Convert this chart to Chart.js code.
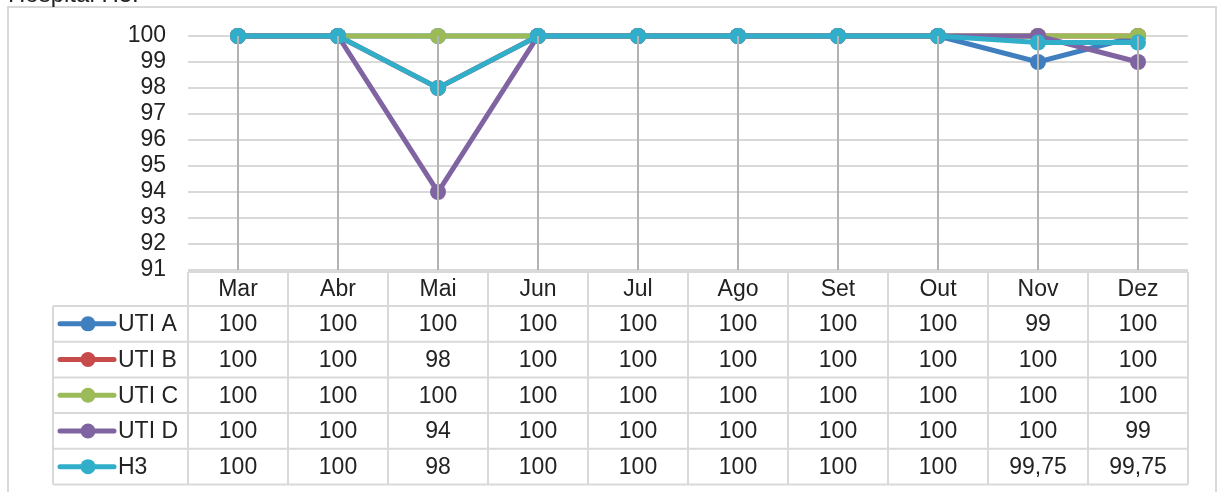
<!DOCTYPE html>
<html>
<head>
<meta charset="utf-8">
<script src="https://cdn.jsdelivr.net/npm/chart.js@4/dist/chart.umd.min.js"></script>
<style>
  html, body { margin: 0; padding: 0; background: #ffffff; overflow: hidden; }
  #wrap { position: relative; width: 1218px; height: 492px; }
</style>
</head>
<body>
<div id="wrap"><canvas id="c" width="1218" height="492"></canvas></div>
<script>
// Months shown on the category axis and in the table header
const months = ['Mar', 'Abr', 'Mai', 'Jun', 'Jul', 'Ago', 'Set', 'Out', 'Nov', 'Dez'];

// Monthly values per unit (%)
const utiA = [100, 100, 100, 100, 100, 100, 100, 100, 99, 100];
const utiB = [100, 100, 98, 100, 100, 100, 100, 100, 100, 100];
const utiC = [100, 100, 100, 100, 100, 100, 100, 100, 100, 100];
const utiD = [100, 100, 94, 100, 100, 100, 100, 100, 100, 99];
const h3   = [100, 100, 98, 100, 100, 100, 100, 100, 99.75, 99.75];

const seriesNames = ['UTI A', 'UTI B', 'UTI C', 'UTI D', 'H3'];
const seriesValues = [utiA, utiB, utiC, utiD, h3];
const seriesColors = ['#3F7FBF', '#C84B4B', '#9BBB59', '#8064A2', '#31AFCA'];

// Y axis range and step
const yMin = 91;
const yMax = 100;
const yStep = 1;

const titleText = 'Hospital H3:';

const FONT = '"Liberation Sans", Arial, sans-serif';
const TEXT = '#222222';
const RULE = '#d9d9d9';
const FONT_SIZE = 23;

function fmt(v) {
  return String(v).replace('.', ',');
}

// Frame, title, drop lines and the data table under the plot
const tablePlugin = {
  id: 'dataTable',
  beforeDraw(chart) {
    const ctx = chart.ctx;
    ctx.save();
    ctx.fillStyle = '#ffffff';
    ctx.fillRect(0, 0, chart.width, chart.height);
    ctx.strokeStyle = RULE;
    ctx.lineWidth = 2;
    ctx.strokeRect(8, 7, 1208, 520);
    ctx.fillStyle = TEXT;
    ctx.font = '24px ' + FONT;
    ctx.textAlign = 'left';
    ctx.textBaseline = 'alphabetic';
    ctx.fillText(titleText, 8, 2);
    ctx.restore();
  },
  afterDatasetsDraw(chart) {
    const ctx = chart.ctx;
    const x = chart.scales.x;
    const y = chart.scales.y;
    const area = chart.chartArea;
    ctx.save();
    // drop lines from the highest point of each month down to the axis
    ctx.strokeStyle = '#b3b3b3';
    ctx.lineWidth = 2;
    months.forEach((m, i) => {
      const top = Math.max(...seriesValues.map(s => s[i]));
      const px = Math.round(x.getPixelForValue(i));
      ctx.beginPath();
      ctx.moveTo(px, y.getPixelForValue(top));
      ctx.lineTo(px, area.bottom);
      ctx.stroke();
    });

    // table geometry derived from the category scale
    const colW = x.getPixelForValue(1) - x.getPixelForValue(0);
    const left = area.left;
    const right = area.right;
    const headTop = area.bottom + 2;
    const headBot = headTop + 34;
    const rowH = 35.7;
    const legendLeft = 53;
    const tableBot = headBot + rowH * seriesNames.length;

    ctx.strokeStyle = RULE;
    ctx.lineWidth = 2;
    ctx.beginPath();
    // header row
    ctx.moveTo(left, headTop); ctx.lineTo(right, headTop);
    for (let r = 0; r <= seriesNames.length; r++) {
      const yy = headBot + r * rowH;
      ctx.moveTo(legendLeft, yy); ctx.lineTo(right, yy);
    }
    for (let c = 0; c <= months.length; c++) {
      const xx = left + c * colW;
      ctx.moveTo(xx, headTop); ctx.lineTo(xx, tableBot);
    }
    ctx.moveTo(legendLeft, headBot); ctx.lineTo(legendLeft, tableBot);
    ctx.stroke();

    ctx.fillStyle = TEXT;
    ctx.font = FONT_SIZE + 'px ' + FONT;
    ctx.textAlign = 'center';
    ctx.textBaseline = 'middle';
    months.forEach((m, i) => {
      ctx.fillText(m, x.getPixelForValue(i), (headTop + headBot) / 2 + 1);
    });

    seriesNames.forEach((name, r) => {
      const cy = headBot + r * rowH + rowH / 2;
      // legend key
      ctx.strokeStyle = seriesColors[r];
      ctx.lineWidth = 5;
      ctx.lineCap = 'round';
      ctx.beginPath();
      ctx.moveTo(60, cy); ctx.lineTo(114, cy);
      ctx.stroke();
      ctx.fillStyle = seriesColors[r];
      ctx.beginPath();
      ctx.arc(88, cy, 7.5, 0, Math.PI * 2);
      ctx.fill();
      ctx.fillStyle = TEXT;
      ctx.textAlign = 'left';
      ctx.fillText(name, 118, cy + 1);
      ctx.textAlign = 'center';
      seriesValues[r].forEach((v, i) => {
        ctx.fillText(fmt(v), x.getPixelForValue(i), cy + 1);
      });
    });
    ctx.restore();
  }
};

const datasets = seriesNames.map((name, k) => ({
  label: name,
  data: seriesValues[k],
  borderColor: seriesColors[k],
  backgroundColor: seriesColors[k],
  pointBackgroundColor: seriesColors[k],
  pointBorderWidth: 0,
  pointRadius: 8,
  borderWidth: 5,
  tension: 0,
  fill: false,
  clip: false,
  order: seriesNames.length - k
}));

new Chart(document.getElementById('c'), {
  type: 'line',
  data: { labels: months, datasets },
  options: {
    responsive: false,
    animation: false,
    devicePixelRatio: 1,
    layout: { padding: { left: 0, right: 30, top: 36, bottom: 222 } },
    plugins: { legend: { display: false }, tooltip: { enabled: false } },
    scales: {
      x: { display: false, offset: true },
      y: {
        min: yMin,
        max: yMax,
        afterFit(scale) { scale.width = 188; },
        ticks: {
          stepSize: yStep,
          autoSkip: false,
          padding: 22,
          color: TEXT,
          font: { family: FONT, size: FONT_SIZE }
        },
        grid: { color: RULE, lineWidth: 2, drawTicks: false },
        border: { display: false }
      }
    }
  },
  plugins: [tablePlugin]
});
</script>
</body>
</html>
